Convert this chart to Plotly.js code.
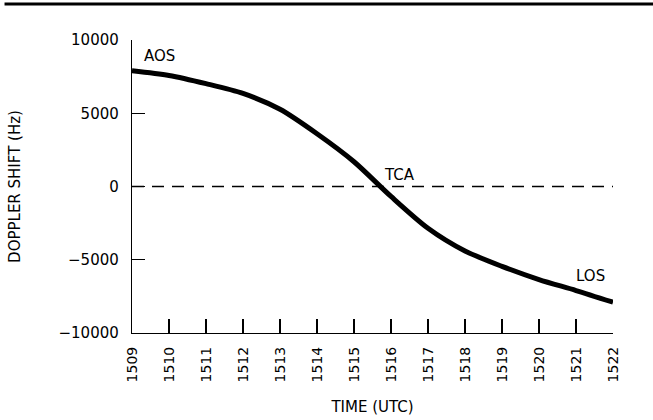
<!DOCTYPE html>
<html>
<head>
<meta charset="utf-8">
<script src="https://cdn.plot.ly/plotly-3.0.1.min.js"></script>
<style>html,body{margin:0;padding:0;background:#fff;}#chart{width:653px;height:420px;}</style>
</head>
<body>
<div id="chart"></div>
<script>
// Data
const timeUTC = [1509, 1510, 1511, 1512, 1513, 1514, 1515, 1516, 1517, 1518, 1519, 1520, 1521, 1522];
const dopplerHz = [7900, 7580, 7020, 6350, 5270, 3600, 1690, -680, -2850, -4400, -5450, -6350, -7100, -7900];
const zeroLineX = [1509, 1522];
const zeroLineY = [0, 0];
const xTickVals = [1509, 1510, 1511, 1512, 1513, 1514, 1515, 1516, 1517, 1518, 1519, 1520, 1521, 1522];
const yTickVals = [-10000, -5000, 0, 5000, 10000];
const yTickText = ["\u221210000", "\u22125000", "0", "5000", "10000"];
const labelText = ["AOS", "TCA", "LOS"];
const labelX = [1509.73, 1516.24, 1521.4];
const labelY = [8900, 800, -6100];

const FONT = "DejaVu Sans, Liberation Sans, sans-serif";

const traces = [
  {x: zeroLineX, y: zeroLineY, type: "scatter", mode: "lines",
   line: {color: "#000", width: 1.6, dash: "12px,8px"}, hoverinfo: "skip"},
  {x: timeUTC, y: dopplerHz, type: "scatter", mode: "lines",
   line: {color: "#000", width: 5, shape: "spline", smoothing: 0.8}}
];

const layout = {
  width: 653, height: 420,
  margin: {l: 132, r: 40, t: 40, b: 87},
  paper_bgcolor: "#fff", plot_bgcolor: "#fff",
  showlegend: false,
  font: {family: FONT, color: "#000", size: 15},
  xaxis: {
    range: [1509, 1522], tickvals: xTickVals, ticktext: xTickVals.map(String),
    ticks: "inside", ticklen: 14, tickwidth: 1.2, tickcolor: "#000",
    tickangle: -90, showgrid: false, zeroline: false,
    showline: true, linecolor: "#000", linewidth: 1.2,
    tickfont: {family: FONT, size: 14, color: "#000"},
    ticklabelstandoff: 7,
    title: {text: "TIME (UTC)", font: {family: FONT, size: 15, color: "#000"}, standoff: 20}
  },
  yaxis: {
    range: [-10000, 10000], tickvals: yTickVals, ticktext: yTickText,
    ticks: "inside", ticklen: 13, tickwidth: 1.2, tickcolor: "#000",
    showgrid: false, zeroline: false,
    showline: true, linecolor: "#000", linewidth: 1.2,
    tickfont: {family: FONT, size: 15, color: "#000"},
    ticklabelstandoff: 9,
    title: {text: "DOPPLER SHIFT (Hz)", font: {family: FONT, size: 15, color: "#000"}, standoff: 34}
  },
  annotations: labelText.map((t, i) => ({
    x: labelX[i], y: labelY[i], xref: "x", yref: "y", text: t, showarrow: false,
    xanchor: "center", yanchor: "middle", font: {family: FONT, size: 15, color: "#000"}
  })),
  shapes: [
    {type: "line", xref: "paper", yref: "paper", x0: -0.265, x1: 1.09, y0: 1.123, y1: 1.123,
     line: {color: "#000", width: 3}}
  ]
};

Plotly.newPlot("chart", traces, layout, {displayModeBar: false, staticPlot: true});
</script>
</body>
</html>
